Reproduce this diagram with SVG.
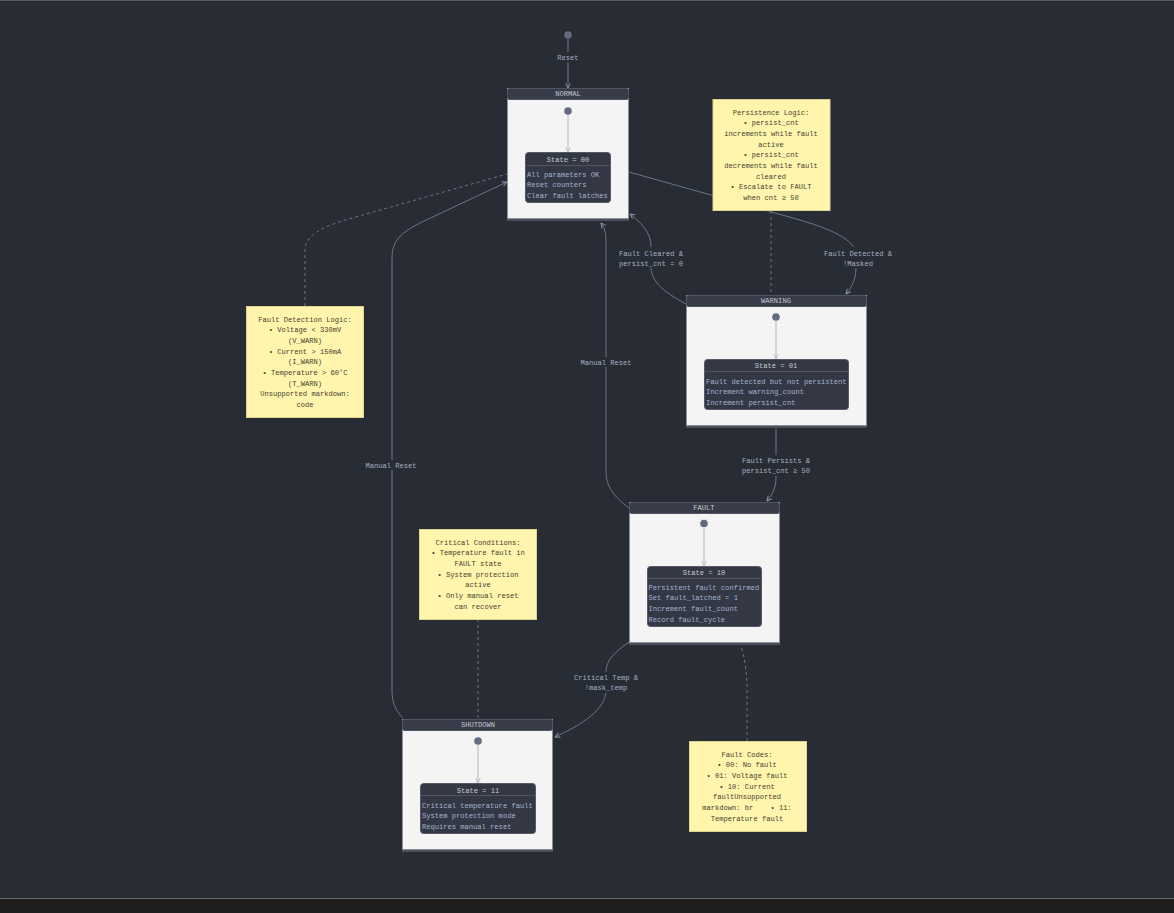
<svg xmlns="http://www.w3.org/2000/svg" width="1174" height="913" viewBox="0 0 1174 913">
<defs>
<marker id="arr" viewBox="0 0 10 10" refX="9" refY="5" markerWidth="6" markerHeight="6" orient="auto-start-reverse" markerUnits="userSpaceOnUse">
<path d="M1,1 L9,5 L1,9" fill="none" stroke="#9aa2b4" stroke-width="1.4"/>
</marker>
<marker id="arrIn" viewBox="0 0 10 10" refX="9" refY="5" markerWidth="6" markerHeight="6" orient="auto" markerUnits="userSpaceOnUse">
<path d="M1,1 L9,5 L1,9" fill="none" stroke="#b0b5c2" stroke-width="1.4"/>
</marker>
</defs>
<style>
text{font-family:"Liberation Mono","DejaVu Sans Mono",monospace;font-size:7.1px}
.hdr{fill:#383c48;stroke:#4f5462;stroke-width:1}
.body{fill:#f4f4f4;stroke:#8a8f9a;stroke-width:1}
.shadow{fill:#4a4f5c}
.ttl{fill:#c2c8d2;text-anchor:middle}
.box{fill:#343845;stroke:#555a68;stroke-width:1}
.div{stroke:#4f5462;stroke-width:1}
.row{fill:#a3b3cb}
.dot{fill:#646b80}
.inl{stroke:#b3b8c4;stroke-width:1;fill:none}
.note{fill:#fff5ad;stroke:#e0d38e;stroke-width:1}
.nt{fill:#45432f;text-anchor:middle}
.edge{stroke:#6d7587;stroke-width:1;fill:none}
.dash{stroke:#6d7587;stroke-width:1;fill:none;stroke-dasharray:3,3}
.el{fill:#a4b0c2;text-anchor:middle}
.lbg{fill:#282c34}
</style>
<rect x="0" y="0" width="1174" height="913" fill="#282c34"/>
<line x1="0" y1="0.5" x2="1174" y2="0.5" stroke="#5a5a5a"/>
<line x1="0" y1="898.5" x2="1174" y2="898.5" stroke="#6a6a66"/>
<rect x="0" y="899" width="1174" height="14" fill="#1f1e1c"/>

<g id="connectors">
<path class="edge" d="M568,39 L568,88" marker-end="url(#arr)"/>
<path class="edge" d="M629,172 L800,220 C840,232 856,242 856,256 L856,268 C856,280 851,288 846,294" marker-end="url(#arr)"/>
<path class="edge" d="M686,304 C662,291 651,281 651,266 L651,246 C651,233 641,222 630,214" marker-end="url(#arr)"/>
<path class="edge" d="M776,428 L776,478 C776,488 772,495 767,501" marker-end="url(#arr)"/>
<path class="edge" d="M629,508 C613,496 606,486 606,471 L606,240 C606,232 604,227 601,223" marker-end="url(#arr)"/>
<path class="edge" d="M403,718 C395,710 392,702 392,690 L392,258 C392,240 402,232 422,222 L507,182" marker-end="url(#arr)"/>
<path class="edge" d="M629,642 C615,652 606,660 606,672 L606,690 C606,710 581,725 555,737" marker-end="url(#arr)"/>
<path class="dash" d="M305,306 L305,250 C305,236 320,228 345,220 L507,174"/>
<path class="dash" d="M771,211 L771,295"/>
<path class="dash" d="M478,619 L478,719"/>
<path class="dash" d="M747,741 L747,690 C747,670 744,656 741,646"/>
<rect class="lbg" x="556" y="52" width="25" height="10"/>
<text class="el" x="568" y="60">Reset</text>
<rect class="lbg" x="822" y="247" width="72" height="21"/>
<text class="el" x="858" y="256">Fault Detected &amp;</text>
<text class="el" x="858" y="266">!Masked</text>
<rect class="lbg" x="617" y="247" width="68" height="21"/>
<text class="el" x="651" y="256">Fault Cleared &amp;</text>
<text class="el" x="651" y="266">persist_cnt = 0</text>
<rect class="lbg" x="740" y="455" width="72" height="21"/>
<text class="el" x="776" y="463">Fault Persists &amp;</text>
<text class="el" x="776" y="473">persist_cnt ≥ 50</text>
<rect class="lbg" x="578" y="357" width="55" height="10"/>
<text class="el" x="606" y="365">Manual Reset</text>
<rect class="lbg" x="364" y="460" width="55" height="10"/>
<text class="el" x="391" y="468">Manual Reset</text>
<rect class="lbg" x="572" y="672" width="68" height="21"/>
<text class="el" x="606" y="680">Critical Temp &amp;</text>
<text class="el" x="606" y="690">!mask_temp</text>
</g>

<circle id="start" class="dot" cx="568" cy="35" r="3.8"/>

<g id="NORMAL">
<rect class="shadow" x="507" y="218" width="122" height="3"/>
<rect class="body" x="507.5" y="88.5" width="121" height="130"/>
<rect class="hdr" x="507.5" y="88.5" width="121" height="11" rx="2"/>
<text class="ttl" x="568" y="96">NORMAL</text>
<circle class="dot" cx="568" cy="111" r="3.8"/>
<path class="inl" d="M568,115 L568,152" marker-end="url(#arrIn)"/>
<rect class="box" x="525.5" y="152.5" width="85" height="50" rx="3"/>
<text class="ttl" x="568" y="161.5">State = 00</text>
<line class="div" x1="526" y1="165.5" x2="610" y2="165.5"/>
<text class="row" x="527" y="176.5">All parameters OK</text>
<text class="row" x="527" y="186.5">Reset counters</text>
<text class="row" x="527" y="197.5">Clear fault latches</text>
</g>

<g id="WARNING">
<rect class="shadow" x="686" y="425" width="181" height="3"/>
<rect class="body" x="686.5" y="295.5" width="180" height="130"/>
<rect class="hdr" x="686.5" y="295.5" width="180" height="11" rx="2"/>
<text class="ttl" x="776" y="303">WARNING</text>
<circle class="dot" cx="776" cy="317" r="3.8"/>
<path class="inl" d="M776,321 L776,359" marker-end="url(#arrIn)"/>
<rect class="box" x="704.5" y="359.5" width="144" height="50" rx="3"/>
<text class="ttl" x="776" y="368">State = 01</text>
<line class="div" x1="705" y1="371.5" x2="848" y2="371.5"/>
<text class="row" x="706" y="383.5">Fault detected but not persistent</text>
<text class="row" x="706" y="393.5">Increment warning_count</text>
<text class="row" x="706" y="404.5">Increment persist_cnt</text>
</g>

<g id="FAULT">
<rect class="shadow" x="629" y="642" width="151" height="3"/>
<rect class="body" x="629.5" y="502.5" width="150" height="140"/>
<rect class="hdr" x="629.5" y="502.5" width="150" height="11" rx="2"/>
<text class="ttl" x="704" y="510">FAULT</text>
<circle class="dot" cx="704" cy="523.5" r="3.8"/>
<path class="inl" d="M704,528 L704,566" marker-end="url(#arrIn)"/>
<rect class="box" x="647.5" y="566.5" width="114" height="60" rx="3"/>
<text class="ttl" x="704" y="575">State = 10</text>
<line class="div" x1="648" y1="578.5" x2="761" y2="578.5"/>
<text class="row" x="648.5" y="589.5">Persistent fault confirmed</text>
<text class="row" x="648.5" y="599.5">Set fault_latched = 1</text>
<text class="row" x="648.5" y="610.5">Increment fault_count</text>
<text class="row" x="648.5" y="621.5">Record fault_cycle</text>
</g>

<g id="SHUTDOWN">
<rect class="shadow" x="402" y="849" width="151" height="3"/>
<rect class="body" x="402.5" y="719.5" width="150" height="130"/>
<rect class="hdr" x="402.5" y="719.5" width="150" height="11" rx="2"/>
<text class="ttl" x="478" y="727">SHUTDOWN</text>
<circle class="dot" cx="478" cy="741" r="3.8"/>
<path class="inl" d="M478,745 L478,783" marker-end="url(#arrIn)"/>
<rect class="box" x="420.5" y="783.5" width="115" height="50" rx="3"/>
<text class="ttl" x="478" y="792.5">State = 11</text>
<line class="div" x1="421" y1="795.5" x2="535" y2="795.5"/>
<text class="row" x="422" y="807.5">Critical temperature fault</text>
<text class="row" x="422" y="817.5">System protection mode</text>
<text class="row" x="422" y="828.5">Requires manual reset</text>
</g>

<g id="note-persistence">
<rect class="note" x="713" y="99.5" width="117" height="111"/>
<text class="nt" x="771" y="114.5">Persistence Logic:</text>
<text class="nt" x="771" y="125">• persist_cnt</text>
<text class="nt" x="771" y="135.5">increments while fault</text>
<text class="nt" x="771" y="146.5">active</text>
<text class="nt" x="771" y="156.5">• persist_cnt</text>
<text class="nt" x="771" y="167.5">decrements while fault</text>
<text class="nt" x="771" y="178.5">cleared</text>
<text class="nt" x="771" y="188.5">• Escalate to FAULT</text>
<text class="nt" x="771" y="199.5">when cnt ≥ 50</text>
</g>

<g id="note-detection">
<rect class="note" x="246.5" y="306.5" width="117" height="111"/>
<text class="nt" x="305" y="321.5">Fault Detection Logic:</text>
<text class="nt" x="305" y="331.5">• Voltage &lt; 330mV</text>
<text class="nt" x="305" y="342.5">(V_WARN)</text>
<text class="nt" x="305" y="353.5">• Current &gt; 150mA</text>
<text class="nt" x="305" y="364">(I_WARN)</text>
<text class="nt" x="305" y="374.5">• Temperature &gt; 60°C</text>
<text class="nt" x="305" y="385.5">(T_WARN)</text>
<text class="nt" x="305" y="395.5">Unsupported markdown:</text>
<text class="nt" x="305" y="406.5">code</text>
</g>

<g id="note-critical">
<rect class="note" x="419.5" y="529.5" width="117" height="90"/>
<text class="nt" x="478" y="544.5">Critical Conditions:</text>
<text class="nt" x="478" y="554.5">• Temperature fault in</text>
<text class="nt" x="478" y="565.5">FAULT state</text>
<text class="nt" x="478" y="576.5">• System protection</text>
<text class="nt" x="478" y="586.5">active</text>
<text class="nt" x="478" y="597.5">• Only manual reset</text>
<text class="nt" x="478" y="608.5">can recover</text>
</g>

<g id="note-codes">
<rect class="note" x="689.5" y="741.5" width="117" height="90"/>
<text class="nt" x="747" y="756.5">Fault Codes:</text>
<text class="nt" x="747" y="766.5">• 00: No fault</text>
<text class="nt" x="747" y="777.5">• 01: Voltage fault</text>
<text class="nt" x="747" y="788.5">• 10: Current</text>
<text class="nt" x="747" y="798.5">faultUnsupported</text>
<text class="nt" x="747" y="809.5" xml:space="preserve">markdown: br    • 11:</text>
<text class="nt" x="747" y="820.5">Temperature fault</text>
</g>
</svg>
